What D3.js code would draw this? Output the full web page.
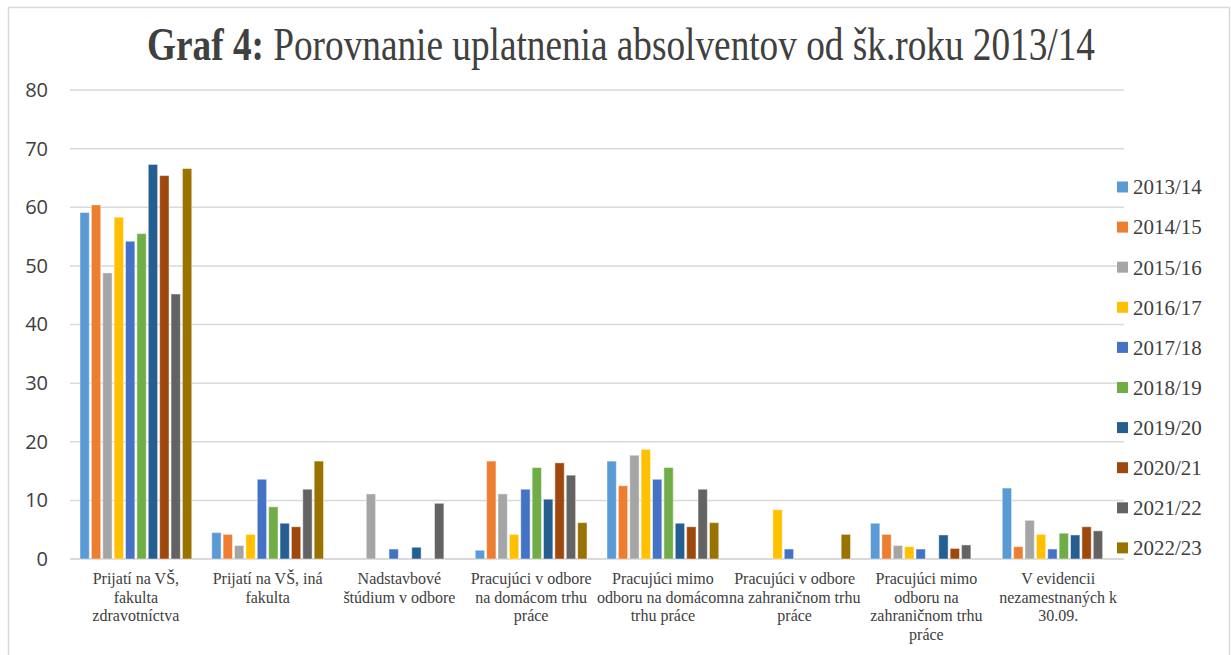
<!DOCTYPE html>
<html>
<head>
<meta charset="utf-8">
<script src="https://cdn.jsdelivr.net/npm/d3@7"></script>
<style>
  body { margin: 0; background: #fff; }
  svg { display: block; }
</style>
</head>
<body>
<div id="chart"></div>
<script>
// categories (x axis), each label split into its wrapped lines
var categories = [
  ["Prijatí na VŠ,", "fakulta", "zdravotníctva"],
  ["Prijatí na VŠ, iná", "fakulta"],
  ["Nadstavbové", "štúdium v odbore"],
  ["Pracujúci v odbore", "na domácom trhu", "práce"],
  ["Pracujúci mimo", "odboru na domácom", "trhu práce"],
  ["Pracujúci v odbore", "na zahraničnom trhu", "práce"],
  ["Pracujúci mimo", "odboru na", "zahraničnom trhu", "práce"],
  ["V evidencii", "nezamestnaných k", "30.09."]
];

var years = ["2013/14", "2014/15", "2015/16", "2016/17", "2017/18",
             "2018/19", "2019/20", "2020/21", "2021/22", "2022/23"];

var colors = ["#5B9BD5", "#ED7D31", "#A5A5A5", "#FFC000", "#4472C4",
              "#70AD47", "#255E91", "#9E480E", "#636363", "#997300"];

// one array per school year, one value per category
var v2013 = [59.1, 4.5, 0, 1.5, 16.7, 0, 6.1, 12.1];
var v2014 = [60.4, 4.2, 0, 16.7, 12.5, 0, 4.2, 2.1];
var v2015 = [48.8, 2.3, 11.1, 11.1, 17.7, 0, 2.3, 6.6];
var v2016 = [58.3, 4.2, 0, 4.2, 18.7, 8.4, 2.1, 4.2];
var v2017 = [54.2, 13.6, 1.7, 11.9, 13.6, 1.7, 1.7, 1.7];
var v2018 = [55.5, 8.9, 0, 15.6, 15.6, 0, 0, 4.4];
var v2019 = [67.3, 6.1, 2.0, 10.2, 6.1, 0, 4.1, 4.1];
var v2020 = [65.4, 5.5, 0, 16.4, 5.5, 0, 1.8, 5.5];
var v2021 = [45.2, 11.9, 9.5, 14.3, 11.9, 0, 2.4, 4.8];
var v2022 = [66.6, 16.7, 0, 6.2, 6.2, 4.2, 0, 0];

var series = [v2013, v2014, v2015, v2016, v2017, v2018, v2019, v2020, v2021, v2022];

var yTicks = [0, 10, 20, 30, 40, 50, 60, 70, 80];

var W = 1231, H = 655;
var svg = d3.select("#chart").append("svg")
    .attr("width", W)
    .attr("height", H);

// chart frame
svg.append("rect")
    .attr("x", 8.5).attr("y", 7.5)
    .attr("width", 1221).attr("height", 700)
    .attr("fill", "#fff")
    .attr("stroke", "#d9d9d9")
    .attr("stroke-width", 1.5);

// title
var title = svg.append("text")
    .attr("text-anchor", "middle")
    .attr("font-family", "'Liberation Serif', 'Times New Roman', serif")
    .attr("font-size", 46)
    .attr("fill", "#404040");
title.append("tspan").attr("font-weight", "bold").text("Graf 4:");
title.append("tspan").text(" Porovnanie uplatnenia absolventov od šk.roku 2013/14");
var tw = title.node().getComputedTextLength();
title.attr("transform", "translate(621,60) scale(" + (948 / tw) + ",1)");

var idx = d3.range(categories.length);

var x0 = d3.scaleBand()
    .domain(idx)
    .range([70, 1124]);

var x1 = d3.scaleBand()
    .domain(d3.range(years.length))
    .range([10, x0.bandwidth() - 10])
    .paddingInner(0.18);

var y = d3.scaleLinear()
    .domain([0, 80])
    .range([559, 90]);

// grid lines
svg.append("g")
  .selectAll("line")
  .data(yTicks)
  .enter()
  .append("line")
    .attr("x1", 70)
    .attr("x2", 1124)
    .attr("y1", function (d) { return y(d); })
    .attr("y2", function (d) { return y(d); })
    .attr("stroke", "#d9d9d9")
    .attr("stroke-width", function (d) { return d === 0 ? 2 : 1.5; });

// y axis labels
var yAxis = svg.append("g")
    .attr("transform", "translate(62,0)")
    .call(d3.axisLeft(y).tickValues(yTicks).tickSize(0).tickPadding(14));
yAxis.select(".domain").remove();
yAxis.selectAll("text")
    .attr("font-family", "'Open Sans', 'Liberation Sans', sans-serif")
    .attr("font-size", 20)
    .attr("fill", "#404040");

// bars
var groups = svg.append("g")
  .selectAll("g")
  .data(idx)
  .enter()
  .append("g")
    .attr("transform", function (c) { return "translate(" + x0(c) + ",0)"; });

groups.selectAll("rect")
  .data(function (c) {
      return series.map(function (s, i) { return { s: i, v: s[c] }; });
  })
  .enter()
  .filter(function (d) { return d.v > 0; })
  .append("rect")
    .attr("x", function (d) { return x1(d.s); })
    .attr("y", function (d) { return y(d.v); })
    .attr("width", x1.bandwidth())
    .attr("height", function (d) { return y(0) - y(d.v); })
    .attr("fill", function (d) { return colors[d.s]; })
    .attr("stroke", "#fff")
    .attr("stroke-opacity", 0.45)
    .attr("stroke-width", 1);

// x axis labels
var xl = svg.append("g")
  .selectAll("text")
  .data(idx)
  .enter()
  .append("text")
    .attr("text-anchor", "middle")
    .attr("font-family", "'Liberation Serif', 'Times New Roman', serif")
    .attr("font-size", 16)
    .attr("fill", "#404040")
    .attr("transform", function (c) {
        return "translate(" + (x0(c) + x0.bandwidth() / 2) + ",584)";
    });

xl.selectAll("tspan")
  .data(function (c) { return categories[c]; })
  .enter()
  .append("tspan")
    .attr("x", 0)
    .attr("y", function (d, i) { return i * 18.5; })
    .text(function (d) { return d; });

// legend
var legend = svg.append("g")
  .selectAll("g")
  .data(years)
  .enter()
  .append("g")
    .attr("transform", function (d, i) { return "translate(1117," + (187 + i * 40.1) + ")"; });

legend.append("rect")
    .attr("x", 0).attr("y", -5.5)
    .attr("width", 11).attr("height", 11)
    .attr("fill", function (d, i) { return colors[i]; });

legend.append("text")
    .attr("x", 16)
    .attr("dy", "0.35em")
    .attr("font-family", "'Liberation Serif', 'Times New Roman', serif")
    .attr("font-size", 21)
    .attr("fill", "#404040")
    .text(function (d) { return d; });
</script>
</body>
</html>
